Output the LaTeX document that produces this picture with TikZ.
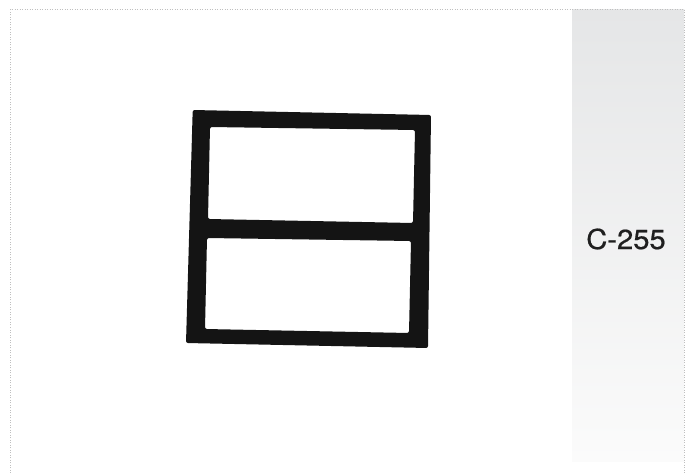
\documentclass[tikz,border=0pt]{standalone}
\usepackage{fontspec}
\setmainfont{TeX Gyre Heros}
\newfontfamily\labelfont[FakeBold=0.6]{TeX Gyre Heros}
\begin{document}
\begin{tikzpicture}[x=1pt,y=-1pt,
  frameline/.style={draw=black!25,line width=0.6pt,dash pattern=on 1pt off 1.5pt},
  inkshape/.style={fill=black!92,even odd rule,rounded corners=2pt},
  labeltext/.style={font=\labelfont\fontsize{27.5}{30}\selectfont,text=black!88,inner sep=0pt}]
\useasboundingbox (0,0) rectangle (691,473);
\fill[white] (0,0) rectangle (691,473);
% gray side panel
\shade[top color={rgb,255:red,229;green,230;blue,231},bottom color={rgb,255:red,251;green,251;blue,251}] (572,9.5) rectangle (684,461);
% dotted frame (left, top, right)
\draw[frameline] (10.5,473) -- (10.5,9.5) -- (684.5,9.5) -- (684.5,473);
% window symbol
\path[inkshape]
  (192.7,110) -- (431,115) -- (428,348) -- (186,343) -- cycle
  (210,127) -- (415,130) -- (413,223) -- (208,219) -- cycle
  (207,238) -- (411,241) -- (409,333) -- (205,329) -- cycle;
\node[labeltext] (lbl) at (626,239) {\scalebox{1.06}[1]{C-255}};
\end{tikzpicture}
\end{document}
